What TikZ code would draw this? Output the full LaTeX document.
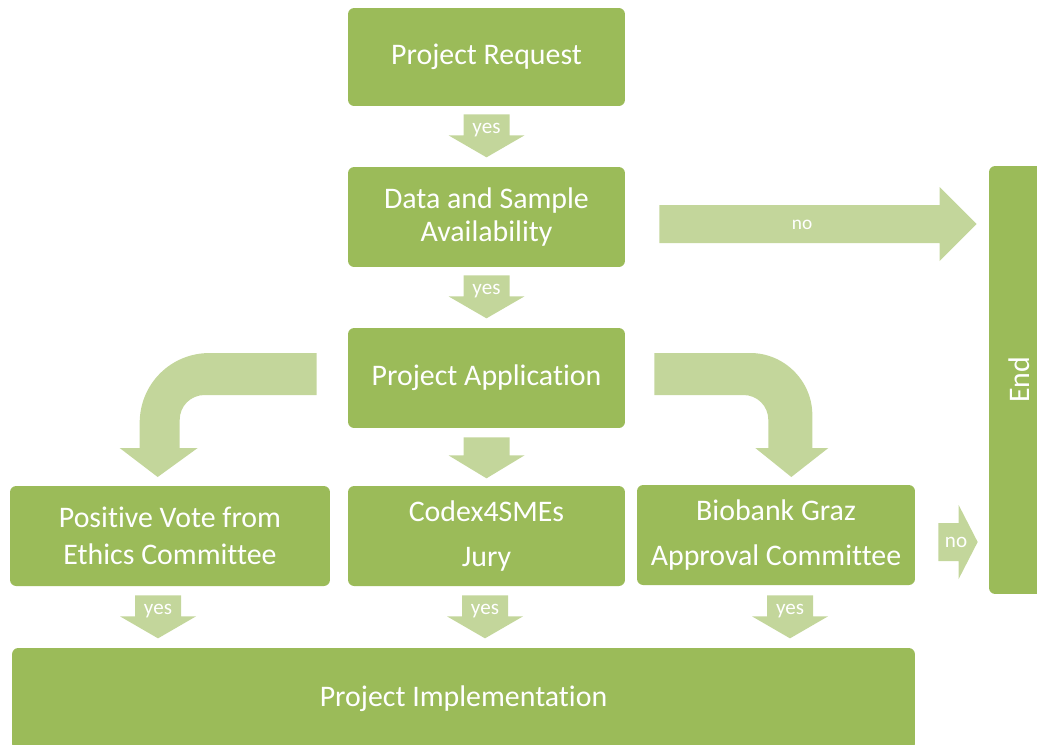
\documentclass[tikz,border=0pt]{standalone}
\usepackage{fontspec}
\setmainfont{Carlito}[Ligatures=NoCommon]
\usetikzlibrary{calc}

\definecolor{boxgreen}{HTML}{9BBB59}
\definecolor{arrowgreen}{HTML}{C3D69B}

\tikzset{
	procstyle/.style={rectangle,rounded corners=3.5pt,fill=boxgreen,text=white,align=center,inner sep=0pt,font=\fontsize{17}{18.7}\selectfont},
	midsize/.style={minimum width=5.54cm,minimum height=2cm},
	arrowfill/.style={fill=arrowgreen},
	arrowtext/.style={text=white,inner sep=0pt,anchor=base,font=\fontsize{12}{14}\selectfont}
}

\newcommand{\procbox}[4]
{
	\node[procstyle,#1] at (#2) (#3) {#4}
}

\newcommand{\yesarrow}[3]
{
	\fill[arrowfill] ($(#2)+(-23,0)$) -- ++(46,0) -- ++(0,21) -- ++(15,0) -- ++(-38,22) -- ++(-38,-22) -- ++(15,0) -- cycle;
	\node[arrowtext] at ($(#2)+(0,19)$) (#1) {#3}
}

\newcommand{\noarrow}[5]
{
	\fill[arrowfill] ($(#2)+(0,-19)$) -- ($(#3)+(-#4,-19)$) -- ($(#3)+(-#4,-37)$) -- (#3) -- ($(#3)+(-#4,37)$) -- ($(#3)+(-#4,19)$) -- ($(#2)+(0,19)$) -- cycle;
	\node[arrowtext] at ($(#2)!0.45!(#3)+(0,5)$) (#1) {#5}
}

\begin{document}
\begin{tikzpicture}[x=0.02cm,y=-0.02cm]
	\useasboundingbox (0,0) rectangle (1037,744);
	
	%%% Main column
	\procbox{midsize,minimum height=1.96cm}{486.5,57}{req}{Project Request};
	\procbox{midsize}{486.5,217}{avail}{Data and Sample\\Availability};
	\procbox{midsize}{486.5,378}{appl}{Project Application};
	
	%%% Review boxes
	\procbox{minimum width=6.4cm,minimum height=2cm}{170,536}{vote}{Positive Vote from\\[2.3pt]Ethics Committee};
	\procbox{midsize}{486.5,536}{codex}{Codex4SMEs\\[7.3pt]Jury};
	\procbox{minimum width=5.56cm,minimum height=2cm}{776,535}{biobank}{Biobank Graz\\[7.3pt]Approval Committee};
	
	%%% Implementation and end
	\procbox{minimum width=18.06cm,minimum height=2.04cm}{463.5,699}{impl}{Project Implementation};
	\procbox{minimum width=1.22cm,minimum height=8.56cm}{1019.5,380}{end}{\rotatebox{90}{End}};
	
	%%%%%%%%% YES ARROWS
	\yesarrow{yes1}{$(req.south)+(0,8)$}{yes};
	\yesarrow{yes2}{$(avail.south)+(0,8)$}{yes};
	\yesarrow{yes3}{$(vote.south)+(-12,9)$}{yes};
	\yesarrow{yes4}{$(codex.south)+(-1.5,9)$}{yes};
	\yesarrow{yes5}{$(biobank.south)+(14,10)$}{yes};
	\fill[arrowfill] ($(appl.south)+(-23,9)$) -- ++(46,0) -- ++(0,18) -- ++(15,0) -- ++(-38,23) -- ++(-38,-23) -- ++(15,0) -- cycle;
	
	%%%%%%%%% CURVED ARROWS
	\fill[arrowfill] ($(appl.west)+(-31,-25)$) -- ++(-107,0) .. controls +(-39,0) and +(0,-39) .. ++(-70,70) -- ++(0,25) -- ++(-20,0) -- ++(38,29) -- ++(40,-29) -- ++(-18,0) -- ++(0,-28) .. controls +(0,-14) and +(-14,0) .. ++(25,-25) -- ++(112,0) -- cycle;
	\fill[arrowfill] ($(appl.east)+(29,-25)$) -- ++(96,0) .. controls +(34,0) and +(0,-34) .. ++(62,62) -- ++(0,33) -- ++(16,0) -- ++(-37,29) -- ++(-36,-29) -- ++(13,0) -- ++(0,-28) .. controls +(0,-14) and +(14,0) .. ++(-25,-25) -- ++(-89,0) -- cycle;
	
	%%%%%%%%% NO ARROWS
	\coordinate (nostart1) at ($(avail.east)+(34,7)$);
	\coordinate (notip1) at ($(nostart1 -| end.west)+(-12,0)$);
	\noarrow{no1}{nostart1}{notip1}{37}{\fontsize{11}{13}\selectfont no};
	\coordinate (nostart2) at ($(biobank.east)+(23,7)$);
	\coordinate (notip2) at ($(nostart2 -| end.west)+(-11,0)$);
	\noarrow{no2}{nostart2}{notip2}{19}{no};
\end{tikzpicture}
\end{document}
